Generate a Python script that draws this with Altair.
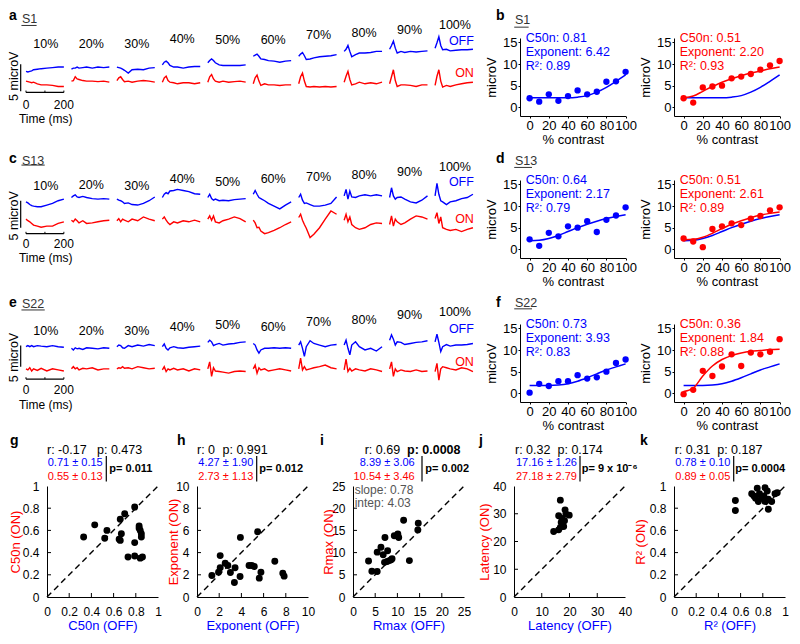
import altair as alt
import pandas as pd

FONT = "Liberation Sans"
BLUE = "#0000ff"
RED = "#ff0000"
GRAY = "#555555"
FRAME = "#ffffff"

CONTRAST_LABELS = ["10%", "20%", "30%", "40%", "50%", "60%", "70%", "80%", "90%", "100%"]
TRACE_T = [0, 10, 20, 30, 40, 60, 80, 110, 140, 170, 200]
TRACE_STEP = 240

# ---- waveforms (microV) ----
S1_OFF = [
    [4.0, 3.9, 4.0, 4.1, 4.3, 4.4, 4.5, 4.6, 4.7, 4.8, 4.8],
    [4.4, 4.6, 4.6, 4.8, 4.6, 4.7, 4.8, 4.6, 4.8, 4.7, 4.8],
    [4.8, 4.7, 4.6, 4.4, 4.2, 3.7, 4.3, 4.4, 4.3, 4.6, 4.7],
    [5.2, 5.7, 5.9, 5.6, 5.1, 4.8, 4.8, 4.6, 4.8, 4.9, 4.9],
    [5.6, 6.0, 6.3, 6.0, 5.6, 5.2, 5.1, 5.1, 5.1, 5.1, 5.2],
    [6.8, 7.0, 7.2, 6.8, 6.3, 6.2, 6.0, 5.9, 5.7, 5.9, 6.0],
    [6.8, 7.2, 7.5, 6.9, 6.2, 6.3, 6.5, 6.7, 6.8, 6.9, 7.1],
    [7.7, 8.1, 8.8, 7.7, 6.7, 7.1, 7.4, 7.4, 7.5, 7.7, 7.7],
    [8.1, 8.8, 9.6, 8.3, 7.4, 7.7, 7.5, 7.7, 7.6, 7.7, 7.8],
    [8.3, 9.3, 10.4, 8.8, 8.0, 8.1, 7.8, 7.9, 8.0, 8.0, 8.1],
]
S1_ON = [
    [2.2, 2.1, 2.0, 1.9, 2.0, 1.7, 1.5, 1.5, 1.4, 1.2, 1.2],
    [2.2, 2.3, 3.0, 2.6, 2.5, 2.3, 2.2, 2.2, 2.1, 2.2, 2.0],
    [2.3, 2.8, 3.0, 2.5, 2.1, 2.2, 2.0, 2.2, 2.3, 2.2, 2.0],
    [2.0, 2.8, 3.1, 2.3, 2.0, 1.9, 1.7, 1.9, 1.9, 1.7, 1.9],
    [2.0, 3.0, 3.4, 2.6, 2.2, 2.0, 2.2, 2.0, 2.1, 2.2, 2.0],
    [1.7, 2.8, 3.3, 2.2, 1.4, 1.7, 1.5, 1.5, 1.4, 1.5, 1.5],
    [1.7, 3.0, 3.7, 2.2, 1.2, 1.1, 1.2, 1.1, 1.2, 1.1, 1.2],
    [2.0, 3.1, 4.0, 2.5, 1.5, 1.7, 2.0, 1.7, 1.9, 1.7, 2.0],
    [1.7, 3.0, 4.3, 2.3, 1.2, 1.5, 1.5, 1.4, 1.2, 1.5, 1.5],
    [1.4, 3.1, 4.3, 2.2, 1.1, 1.4, 1.2, 1.5, 1.7, 1.9, 2.0],
]
S13_OFF = [
    [5.4, 5.2, 4.9, 4.7, 4.6, 4.5, 4.5, 4.8, 5.1, 5.6, 5.9],
    [6.2, 6.5, 6.7, 6.3, 6.2, 6.4, 6.2, 6.0, 5.9, 6.0, 5.9],
    [5.9, 5.7, 5.6, 5.4, 5.1, 5.2, 4.9, 4.8, 5.1, 5.6, 6.3],
    [6.2, 6.8, 7.1, 6.9, 7.4, 7.5, 7.7, 7.5, 7.3, 6.9, 6.8],
    [6.2, 6.8, 6.0, 5.7, 5.9, 5.6, 5.7, 5.6, 5.8, 5.9, 6.0],
    [6.8, 7.5, 6.8, 6.2, 6.0, 5.6, 5.1, 4.6, 4.1, 4.8, 5.4],
    [6.2, 6.8, 5.7, 5.1, 5.2, 4.9, 4.6, 4.6, 4.8, 5.1, 6.3],
    [6.5, 7.7, 5.9, 7.4, 6.3, 6.2, 6.5, 6.7, 6.5, 6.7, 6.5],
    [6.2, 8.0, 6.5, 5.9, 6.2, 6.3, 5.9, 5.4, 5.2, 5.7, 6.5],
    [6.5, 8.8, 6.8, 5.6, 5.4, 4.9, 5.4, 5.6, 6.0, 6.2, 6.8],
]
S13_ON = [
    [2.2, 1.9, 1.7, 1.4, 1.1, 0.9, 0.7, 0.9, 0.9, 1.4, 1.7],
    [2.0, 1.7, 2.2, 1.9, 1.5, 1.9, 1.4, 1.5, 1.7, 1.9, 2.0],
    [1.9, 2.3, 1.7, 2.2, 2.0, 1.7, 2.2, 1.9, 2.6, 2.2, 1.9],
    [2.2, 2.6, 2.0, 1.5, 1.2, 1.7, 1.5, 1.9, 1.7, 2.0, 1.7],
    [2.2, 2.8, 2.0, 2.8, 1.7, 1.5, 1.9, 2.2, 2.6, 2.3, 1.7],
    [2.0, 1.5, 0.6, 0.7, 0.0, -0.5, -0.3, 0.1, 0.6, 1.2, 1.7],
    [2.5, 3.1, 2.0, 1.2, 0.5, -1.2, -0.6, 0.6, 2.2, 3.7, 3.1],
    [2.0, 3.1, 1.7, 2.6, 1.2, 0.6, 0.3, 0.6, 1.2, 1.5, 1.4],
    [1.2, 2.8, 0.9, 2.2, 1.7, 1.2, 1.5, 2.2, 2.8, 2.6, 2.2],
    [2.3, 3.4, 1.4, 2.6, 0.6, 0.3, 0.1, 0.3, -0.1, 0.3, 0.6],
]
S22_OFF = [
    [4.0, 4.2, 4.0, 4.2, 4.0, 4.2, 4.1, 4.0, 4.2, 4.0, 3.9],
    [3.7, 3.4, 3.8, 3.6, 3.7, 3.5, 3.8, 3.7, 3.6, 3.8, 3.7],
    [4.0, 4.3, 4.2, 3.8, 3.7, 4.2, 4.0, 4.3, 4.1, 4.4, 4.2],
    [4.0, 4.5, 3.7, 3.4, 3.8, 4.0, 3.8, 3.7, 3.9, 4.0, 4.1],
    [4.8, 5.2, 4.9, 4.2, 4.4, 4.6, 4.3, 4.5, 4.6, 4.8, 4.9],
    [4.6, 4.3, 3.4, 2.8, 3.4, 3.7, 3.7, 3.8, 3.7, 3.8, 3.7],
    [4.3, 4.9, 3.7, 2.2, 4.0, 5.1, 4.6, 4.3, 4.0, 4.3, 4.4],
    [4.3, 5.2, 3.7, 2.5, 4.3, 4.9, 4.0, 3.4, 3.7, 3.2, 4.0],
    [5.2, 6.2, 5.4, 4.3, 4.9, 4.8, 4.4, 4.6, 4.8, 4.9, 5.1],
    [4.9, 6.3, 4.8, 3.1, 4.0, 4.4, 4.1, 4.3, 4.3, 4.4, 4.6],
]
S22_ON = [
    [-0.1, -0.3, 0.1, -0.5, -0.1, -0.4, 0.0, -0.5, -0.1, -0.3, -0.5],
    [-0.1, 0.3, -0.1, 0.1, -0.3, 0.0, -0.1, 0.1, -0.3, -0.1, -0.1],
    [-0.1, 0.1, 0.0, 0.3, 0.0, 0.1, -0.1, 0.3, 0.1, -0.1, 0.0],
    [-0.3, 0.3, -0.6, -0.1, -0.3, 0.0, -0.3, -0.1, -0.5, -0.1, -0.3],
    [-0.1, 1.2, -1.5, 0.1, -0.5, -0.6, -0.7, -0.9, -0.6, -0.5, -0.6],
    [-0.1, 0.6, -0.9, 0.1, -0.3, -0.1, -0.5, -0.3, -0.1, -0.3, -0.5],
    [-0.1, 1.9, -0.3, 0.3, -0.3, -0.1, 0.1, 0.3, 0.6, 0.1, -0.1],
    [-0.3, 1.7, -0.6, 0.0, -0.5, -0.1, -0.3, -0.5, -0.1, -0.3, -0.6],
    [-0.1, 1.2, -1.5, -0.1, -0.6, -0.3, -0.5, -0.6, -0.3, -0.6, -0.5],
    [-0.6, 0.9, -2.2, -0.1, 0.3, 0.1, -0.1, -0.3, 0.1, -0.1, -0.6],
]

# ---- contrast response (microV) ----
FIT_C = [0, 10, 20, 30, 40, 50, 60, 70, 80, 90, 100]
S1_OFF_PTS = [2.1, 1.3, 3.0, 1.5, 2.6, 3.9, 3.0, 3.6, 5.9, 6.0, 8.2]
S1_OFF_FIT = [2.2, 2.2, 2.2, 2.2, 2.2, 2.35, 2.7, 3.5, 4.6, 6.0, 7.5]
S1_ON_PTS = [2.1, 1.1, 4.6, 4.8, 5.0, 6.7, 7.1, 7.7, 8.7, 9.7, 10.7]
S1_ON_FIT = [2.2, 2.6, 3.7, 4.8, 5.8, 6.6, 7.3, 7.9, 8.4, 8.9, 9.3]
S13_OFF_PTS = [2.3, 0.8, 3.8, 3.0, 5.3, 5.0, 6.5, 4.0, 6.8, 7.8, 9.7]
S13_OFF_FIT = [2.0, 2.1, 2.5, 3.2, 4.1, 5.0, 5.8, 6.5, 7.1, 7.6, 8.0]
S13_ON_PTS = [2.5, 1.8, 0.5, 4.7, 5.3, 6.0, 5.6, 7.1, 7.7, 9.0, 9.7]
S13_ON_FIT = [2.2, 2.3, 2.8, 3.7, 4.8, 5.8, 6.6, 7.3, 7.9, 8.3, 8.6]
S22_OFF_PTS = [0.15, 2.2, 1.7, 2.8, 2.8, 4.2, 3.4, 3.7, 5.0, 7.0, 7.8]
S22_OFF_FIT = [1.8, 1.8, 1.8, 1.9, 2.2, 2.8, 3.6, 4.5, 5.4, 6.1, 6.8]
S22_ON_PTS = [-0.2, 0.8, 5.2, 4.0, 6.2, 9.0, 6.3, 9.4, 9.0, 9.6, 12.5]
S22_ON_FIT = [0.4, 1.2, 4.0, 6.3, 7.8, 8.7, 9.3, 9.7, 9.9, 10.1, 10.2]

# ---- population scatter ----
C50_OFF = [0.33, 0.43, 0.54, 0.52, 0.66, 0.70, 0.79, 0.67, 0.65, 0.66, 0.83, 0.83, 0.85, 0.85, 0.79, 0.73, 0.79, 0.84, 0.86, 0.84]
C50_ON = [0.54, 0.65, 0.60, 0.53, 0.70, 0.75, 0.81, 0.57, 0.52, 0.51, 0.64, 0.62, 0.57, 0.54, 0.49, 0.36, 0.37, 0.35, 0.36, 0.60]
EXP_OFF = [1.34, 1.94, 2.09, 2.09, 2.54, 2.78, 3.01, 3.43, 3.37, 3.88, 3.91, 4.69, 4.93, 5.16, 5.46, 5.61, 5.76, 7.01, 7.73, 7.85]
EXP_ON = [1.94, 2.24, 2.63, 3.73, 3.04, 2.84, 2.21, 2.63, 1.31, 1.85, 5.37, 2.84, 2.84, 2.75, 5.88, 1.70, 2.24, 3.22, 2.15, 1.88]
RMAX_OFF = [3.5, 4.25, 5.45, 5.45, 6.3, 6.8, 7.2, 7.1, 7.8, 8.2, 8.8, 9.3, 10.1, 10.3, 11.4, 12.7, 14.6, 14.7, 7.7, 8.6]
RMAX_ON = [8.1, 5.8, 5.75, 10.1, 11.2, 9.5, 13.4, 7.8, 10.4, 8.2, 8.6, 13.8, 14.2, 13.4, 17.3, 8.2, 15.1, 16.6, 8.0, 8.4]
LAT_OFF = [16.7, 14.3, 16.1, 18.4, 19.9, 17.3, 16.7, 17.5, 16.1, 18.2, 17.9, 18.7, 17.0]
LAT_ON = [34.9, 23.6, 29.3, 31.4, 29.5, 28.3, 25.1, 26.3, 24.2, 27.5, 25.4, 29.9, 26.9]
R2_OFF = [0.553, 0.553, 0.70, 0.75, 0.72, 0.77, 0.76, 0.82, 0.84, 0.81, 0.85, 0.91, 0.88, 0.85, 0.79, 0.735, 0.93, 0.82]
R2_ON = [0.87, 0.78, 0.93, 0.98, 0.91, 0.93, 0.86, 0.985, 0.955, 0.91, 0.88, 0.93, 0.86, 0.79, 0.89, 0.89, 0.94, 0.86]

SC = 111  # scatter panel size


def one():
    return pd.DataFrame({"d": [0]})


def ptext(s, x, y, size=12.5, color="black", align="left", weight="normal"):
    return alt.Chart(one()).mark_text(
        text=s, fontSize=size, color=color, align=align, baseline="middle", fontWeight=weight
    ).encode(x=alt.value(x), y=alt.value(y))


def prule(x, y1, y2, color="black", width=1.0):
    return alt.Chart(one()).mark_rule(color=color, strokeWidth=width).encode(
        x=alt.value(x), y=alt.value(y1), y2=alt.value(y2)
    )


def trace_panel(off, on, ytop, lab_y, off_y, on_y, bar, hbar_y, tick_y, time_y, mv_y,
                letter, subj, head_y, subj_y, ul_y, ul_end, frame):
    xs = alt.Scale(domain=[-95, 2355], nice=False, zero=False)
    ys = alt.Scale(domain=[ytop - 14.44, ytop], nice=False, zero=False)

    def X(f):
        return alt.X(f, type="quantitative", scale=xs, axis=None)

    def Y(f):
        return alt.Y(f, type="quantitative", scale=ys, axis=None)

    rows = []
    for k in range(10):
        for pol, arr in (("OFF", off), ("ON", on)):
            for t, v in zip(TRACE_T, arr[k]):
                rows.append({"t": k * TRACE_STEP + t, "v": v, "pol": pol, "key": f"{pol}{k}"})
    df = pd.DataFrame(rows)
    fr = prule(0.25, frame[0], frame[1], color=FRAME, width=0.5)
    lines = alt.Chart(df).mark_line(strokeWidth=1.4).encode(
        x=X("t"), y=Y("v"),
        color=alt.Color("pol:N", scale=alt.Scale(domain=["OFF", "ON"], range=[BLUE, RED]), legend=None),
        detail="key:N",
    )
    lab_df = pd.DataFrame({"t": [k * TRACE_STEP + 105 for k in range(10)], "v": lab_y, "txt": CONTRAST_LABELS})
    labs = alt.Chart(lab_df).mark_text(fontSize=12.5, align="center", baseline="middle", color="black").encode(
        x=X("t"), y=Y("v"), text="txt:N")
    offl = alt.Chart(pd.DataFrame({"t": [2365], "v": [off_y]})).mark_text(
        text="OFF", fontSize=12.5, align="right", baseline="middle", color=BLUE).encode(x=X("t"), y=Y("v"))
    onl = alt.Chart(pd.DataFrame({"t": [2365], "v": [on_y]})).mark_text(
        text="ON", fontSize=12.5, align="right", baseline="middle", color=RED).encode(x=X("t"), y=Y("v"))
    vbar = alt.Chart(pd.DataFrame({"t": [-28], "v": [bar[0]], "v2": [bar[1]]})).mark_rule(
        color="black", strokeWidth=1.2).encode(x=X("t"), y=Y("v"), y2=alt.Y2("v2"))
    hbar = alt.Chart(pd.DataFrame({"t": [0], "t2": [200], "v": [hbar_y]})).mark_rule(
        color="black", strokeWidth=1.2).encode(x=X("t"), x2=alt.X2("t2"), y=Y("v"))
    hticks = alt.Chart(pd.DataFrame({"t": [0, 100, 200], "v": [hbar_y] * 3, "v2": [hbar_y + 0.35] * 3})).mark_rule(
        color="black", strokeWidth=1).encode(x=X("t"), y=Y("v"), y2=alt.Y2("v2"))
    tlabs = alt.Chart(pd.DataFrame({"t": [0, 200], "v": [tick_y] * 2, "txt": ["0", "200"]})).mark_text(
        fontSize=12, align="center", baseline="middle", color="black").encode(x=X("t"), y=Y("v"), text="txt:N")
    ttl = alt.Chart(pd.DataFrame({"t": [104], "v": [time_y]})).mark_text(
        text="Time (ms)", fontSize=12, align="center", baseline="middle", color="black").encode(x=X("t"), y=Y("v"))
    mv = alt.Chart(pd.DataFrame({"t": [-61], "v": [mv_y]})).mark_text(
        text="5 microV", fontSize=12.5, align="center", baseline="middle", angle=270, color="black").encode(
        x=X("t"), y=Y("v"))
    let = alt.Chart(pd.DataFrame({"t": [-90], "v": [head_y]})).mark_text(
        text=letter, fontSize=14, fontWeight="bold", align="left", baseline="middle", color="black").encode(
        x=X("t"), y=Y("v"))
    sub = alt.Chart(pd.DataFrame({"t": [-21], "v": [subj_y]})).mark_text(
        text=subj, fontSize=12.5, align="left", baseline="middle", color="#333333").encode(x=X("t"), y=Y("v"))
    ul = alt.Chart(pd.DataFrame({"t": [-24], "t2": [ul_end], "v": [ul_y]})).mark_rule(
        color="#333333", strokeWidth=1).encode(x=X("t"), x2=alt.X2("t2"), y=Y("v"))
    return alt.layer(fr, lines, labs, offl, onl, vbar, hbar, hticks, tlabs, ttl, mv, let, sub, ul).properties(
        width=464, height=78)


def fit_panel(pts, pcolor, fits, texts, header=None):
    xs = alt.Scale(domain=[-10, 100], nice=False, zero=False)
    ys = alt.Scale(domain=[-2, 16], nice=False, zero=False)
    xax = alt.Axis(values=[0, 20, 40, 60, 80, 100], title="% contrast", titleX=52.8, titleY=23.6,
                   titleBaseline="middle", tickSize=2, labelPadding=1, labelFlush=False, labelOverlap=False)
    yax = alt.Axis(values=[0, 5, 10, 15], title="microV", titleX=-29, titleY=39, titleAngle=270,
                   titleBaseline="middle", tickSize=2, labelPadding=1, labelFlush=False, labelOverlap=False)
    X = alt.X("c:Q", scale=xs, axis=xax)
    Y = alt.Y("r:Q", scale=ys, axis=yax)
    layers = []
    for vals, col in fits:
        layers.append(alt.Chart(pd.DataFrame({"c": FIT_C, "r": vals})).mark_line(
            color=col, strokeWidth=1.5, interpolate="monotone").encode(x=X, y=Y))
    layers.append(alt.Chart(pd.DataFrame({"c": FIT_C, "r": pts})).mark_circle(
        size=40, color=pcolor, opacity=1).encode(x=X, y=Y))
    layers.append(alt.Chart(pd.DataFrame({"c": [-4, -4, -4], "r": [16, 12.7, 9.45], "txt": texts})).mark_text(
        fontSize=12.5, align="left", baseline="middle", color=pcolor).encode(x=X, y=Y, text="txt:N"))
    if header is not None:
        letter, subj, hy, sy, uy, uend = header
        layers.append(alt.Chart(pd.DataFrame({"c": [-35.1], "r": [hy]})).mark_text(
            text=letter, fontSize=14, fontWeight="bold", align="left", baseline="middle", color="black").encode(
            x=X, y=Y))
        layers.append(alt.Chart(pd.DataFrame({"c": [-15.3], "r": [sy]})).mark_text(
            text=subj, fontSize=12.5, align="left", baseline="middle", color="#333333").encode(x=X, y=Y))
        layers.append(alt.Chart(pd.DataFrame({"c": [-16], "c2": [uend], "r": [uy]})).mark_rule(
            color="#333333", strokeWidth=1).encode(x=X, x2=alt.X2("c2"), y=Y))
    return alt.layer(*layers).properties(width=105.6, height=78)


def scatter_panel(xv, yv, vmax, ticks, xtitle, ytitle, ytx, ann):
    sc = alt.Scale(domain=[0, vmax], nice=False, zero=False)
    lab = "'' + datum.value"
    xax = alt.Axis(values=ticks, labelExpr=lab, title=xtitle, titleColor=BLUE, titleX=SC / 2, titleY=28,
                   titleBaseline="middle", ticks=False, labelPadding=9, labelFontSize=12,
                   labelFlush=False, labelOverlap=False)
    yax = alt.Axis(values=ticks, labelExpr=lab, title=ytitle, titleColor=RED, titleX=ytx, titleY=SC / 2,
                   titleAngle=270, titleBaseline="middle", ticks=False, labelPadding=8, labelFontSize=12,
                   labelFlush=False, labelOverlap=False)
    X = alt.X("x:Q", scale=sc, axis=xax)
    Y = alt.Y("y:Q", scale=sc, axis=yax)
    diag = alt.Chart(pd.DataFrame({"x": [0, vmax], "y": [0, vmax]})).mark_line(
        color="black", strokeDash=[6, 4], strokeWidth=1.4).encode(x=X, y=Y)
    pts = alt.Chart(pd.DataFrame({"x": xv, "y": yv})).mark_circle(size=48, color="black", opacity=1).encode(
        x=X, y=Y)
    xt = alt.Chart(pd.DataFrame({"x": ticks[1:-1]})).mark_rule(color="black").encode(
        x=X, y=alt.value(SC), y2=alt.value(SC - 4))
    yt = alt.Chart(pd.DataFrame({"y": ticks[1:-1]})).mark_rule(color="black").encode(
        y=Y, x=alt.value(0), x2=alt.value(4))
    return alt.layer(diag, xt, yt, pts, *ann).properties(width=SC, height=SC)


def stats_ann(letter, lx, r_txt, r_x, p_txt, p_x, p_bold, m_off, m_on, right_x, sep_x, pdiff, pdiff_x):
    return [
        ptext(letter, lx, -45, size=14, weight="bold"),
        ptext(r_txt, r_x, -36.5, size=12.5),
        ptext(p_txt, p_x, -36.5, size=12.5, weight="bold" if p_bold else "normal"),
        ptext(m_off, right_x, -23, size=11, color=BLUE, align="right"),
        ptext(m_on, right_x, -8.8, size=11, color=RED, align="right"),
        prule(sep_x, -30, -4.5, width=1.2),
        ptext(pdiff, pdiff_x, -16.7, size=11, weight="bold"),
    ]


def spacer(w, frame=None):
    if frame is None:
        return alt.Chart(one()).mark_point(opacity=0).encode(x=alt.value(0), y=alt.value(0)).properties(
            width=w, height=SC)
    return prule(0.25, frame[0], frame[1], color=FRAME, width=0.5).properties(width=w, height=SC)


# ---- rows 1-3 ----
a = trace_panel(S1_OFF, S1_ON, 10.18, [9.1, 9.1, 9.1, 10.0, 9.9, 9.9, 10.7, 11.1, 11.7, 12.5], 9.7, 3.7,
                (0.3, 5.3), 0.1, -2.2, -4.85, 3.1, "a", "S1", 14.2, 13.7, 12.5, 56, (-29, 108.5))
c = trace_panel(S13_OFF, S13_ON, 9.44, [8.3, 8.5, 8.3, 9.6, 9.1, 9.6, 10.0, 10.4, 11.0, 11.9], 9.1, 2.2,
                (0.6, 5.6), -0.5, -2.45, -5.05, 2.8, "c", "S13", 13.3, 13.0, 12.2, 99, (-32, 108.5))
e = trace_panel(S22_OFF, S22_ON, 8.2, [6.9, 6.9, 6.9, 7.7, 8.0, 7.7, 8.6, 9.0, 9.8, 10.4], 7.3, 1.2,
                (0.3, 4.2), -2.0, -4.1, -6.75, 2.0, "e", "S22", 12.0, 11.9, 10.8, 99, (-34, 108.5))

bL = fit_panel(S1_OFF_PTS, BLUE, [(S1_OFF_FIT, BLUE)], ["C50n: 0.81", "Exponent: 6.42", "R²: 0.89"],
               header=("b", "S1", 21.0, 20.1, 18.5, -1))
bR = fit_panel(S1_ON_PTS, RED, [(S1_OFF_FIT, BLUE), (S1_ON_FIT, RED)], ["C50n: 0.51", "Exponent: 2.20", "R²: 0.93"])
dL = fit_panel(S13_OFF_PTS, BLUE, [(S13_OFF_FIT, BLUE)], ["C50n: 0.64", "Exponent: 2.17", "R²: 0.79"],
               header=("d", "S13", 20.8, 20.4, 18.9, 2.5))
dR = fit_panel(S13_ON_PTS, RED, [(S13_OFF_FIT, BLUE), (S13_ON_FIT, RED)], ["C50n: 0.51", "Exponent: 2.61", "R²: 0.89"])
fL = fit_panel(S22_OFF_PTS, BLUE, [(S22_OFF_FIT, BLUE)], ["C50n: 0.73", "Exponent: 3.93", "R²: 0.83"],
               header=("f", "S22", 20.8, 20.8, 19.5, 2.5))
fR = fit_panel(S22_ON_PTS, RED, [(S22_OFF_FIT, BLUE), (S22_ON_FIT, RED)], ["C50n: 0.36", "Exponent: 1.84", "R²: 0.88"])

row1 = alt.hconcat(a, bL, bR, spacing=48, bounds="flush")
row2 = alt.hconcat(c, dL, dR, spacing=48, bounds="flush")
row3 = alt.hconcat(e, fL, fR, spacing=48, bounds="flush")

# ---- row 4 ----
g = scatter_panel(C50_OFF, C50_ON, 1, [0, 0.2, 0.4, 0.6, 0.8, 1], "C50n (OFF)", "C50n (ON)", -32,
                  stats_ann("g", -37, "r: -0.17", 0, "p: 0.473", 50, False, "0.71 ± 0.15", "0.55 ± 0.13",
                            55.7, 59.3, "p= 0.011", 62.3))
h = scatter_panel(EXP_OFF, EXP_ON, 10, [0, 2, 4, 6, 8, 10], "Exponent (OFF)", "Exponent (ON)", -24,
                  stats_ann("h", -20, "r: 0", 0, "p: 0.991", 25.5, False, "4.27 ± 1.90", "2.73 ± 1.13",
                            56.3, 59.7, "p= 0.012", 62.3))
i = scatter_panel(RMAX_OFF, RMAX_ON, 25, [0, 5, 10, 15, 20, 25], "Rmax (OFF)", "Rmax (ON)", -25,
                  stats_ann("i", -33, "r: 0.69", 11.7, "p: 0.0008", 54, True, "8.39 ± 3.06", "10.54 ± 3.46",
                            61.7, 69, "p= 0.002", 72.3)
                  + [ptext("slope: 0.78", 1.7, 4, size=12, color=GRAY),
                     ptext("intep: 4.03", 1.7, 17.3, size=12, color=GRAY)])
j = scatter_panel(LAT_OFF, LAT_ON, 40, [0, 10, 20, 30, 40], "Latency (OFF)", "Latency (ON)", -29.7,
                  stats_ann("j", -35, "r: 0.32", 1, "p: 0.174", 43.5, False, "17.16 ± 1.26", "27.18 ± 2.79",
                            63, 66, "p= 9 x 10⁻⁶", 67.7))
k = scatter_panel(R2_OFF, R2_ON, 1, [0, 0.2, 0.4, 0.6, 0.8, 1], "R² (OFF)", "R² (ON)", -33.7,
                  stats_ann("k", -34, "r: 0.31", 0.7, "p: 0.187", 43.2, False, "0.78 ± 0.10", "0.89 ± 0.05",
                            56.3, 59.7, "p= 0.0004", 61.3))

row4 = alt.hconcat(spacer(39, frame=(-52, 146)), g, spacer(39), h, spacer(45), i, spacer(50), j, spacer(49), k,
                   spacing=0, bounds="flush")

chart = alt.vconcat(row1, row2, row3, row4, spacing=0).properties(padding=0).configure(
    font=FONT
).configure_view(stroke=None).configure_axis(
    grid=False, domainColor="black", tickColor="black", labelColor="black", titleColor="black",
    labelFont=FONT, titleFont=FONT, labelFontSize=13, titleFontSize=13, titleFontWeight="normal",
    domainWidth=1
)

chart.save("out.html", embed_options={"renderer": "svg", "actions": False})
